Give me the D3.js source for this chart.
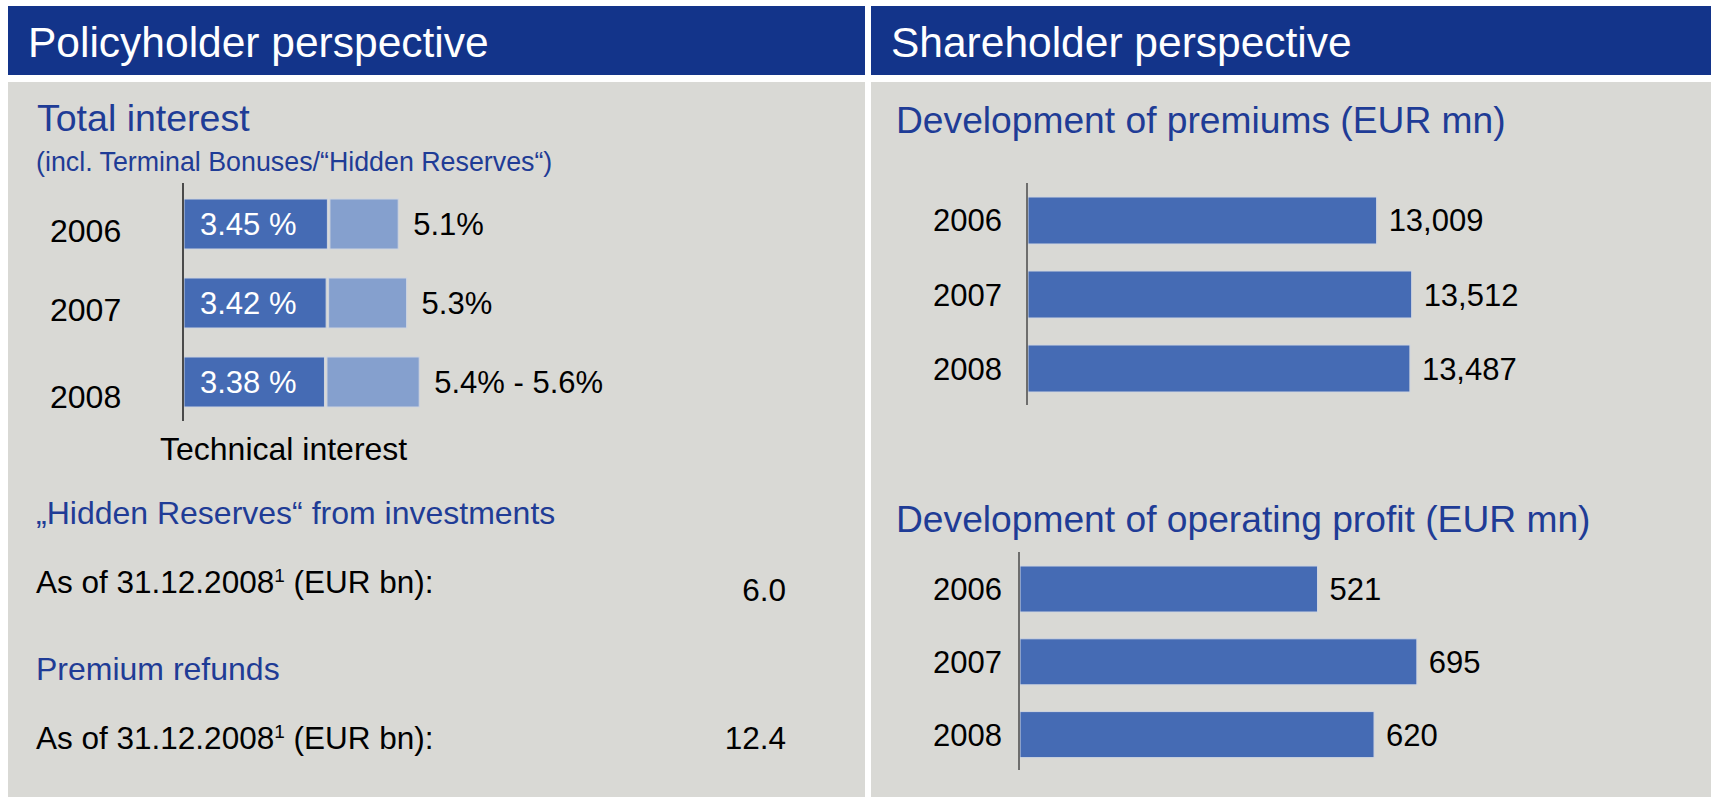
<!DOCTYPE html>
<html>
<head>
<meta charset="utf-8">
<title>Policyholder / Shareholder perspective</title>
<script src="https://cdn.jsdelivr.net/npm/d3@7"></script>
<style>
  html, body { margin: 0; padding: 0; background: #fff; }
  svg { display: block; font-family: "Liberation Sans", Arial, Helvetica, sans-serif; }
</style>
</head>
<body>
<svg id="chart" width="1711" height="797"></svg>
<script>
/* Two-panel slide: policyholder interest bars on the left,
   premiums and operating profit bars on the right. */
(() => {
  "use strict";

  const YEARS = ["2006", "2007", "2008"];
  const TECH_INTEREST = [3.45, 3.42, 3.38];          // %
  const TOTAL_INTEREST = [5.1, 5.3, 5.6];            // % (2008 drawn at top of range)
  const TOTAL_LABELS = ["5.1%", "5.3%", "5.4% - 5.6%"];
  const PREMIUMS = [13009, 13512, 13487];            // EUR mn
  const OP_PROFIT = [521, 695, 620];                 // EUR mn
  const HIDDEN_RESERVES = 6.0;                       // EUR bn
  const PREMIUM_REFUNDS = 12.4;                      // EUR bn

  const C = {
    header: "#13348a",
    panel: "#d9d9d5",
    title: "#1f3c96",
    bar: "#456bb4",
    barLight: "#85a0ce",
    edge: "#cfd5e0",
    axis: "#4a4a4a",
  };
  const NF = d3.format(",");

  const svg = d3.select("#chart");

  /* ---------- frame ---------- */
  svg.append("rect").attr("x", 8).attr("y", 6).attr("width", 857).attr("height", 69).attr("fill", C.header);
  svg.append("rect").attr("x", 871).attr("y", 6).attr("width", 840).attr("height", 69).attr("fill", C.header);
  svg.append("rect").attr("x", 8).attr("y", 82).attr("width", 857).attr("height", 715).attr("fill", C.panel);
  svg.append("rect").attr("x", 871).attr("y", 82).attr("width", 840).attr("height", 715).attr("fill", C.panel);

  function text(x, y, s, size, fill, anchor) {
    return svg.append("text")
      .attr("x", x).attr("y", y)
      .attr("font-size", size)
      .attr("fill", fill)
      .attr("text-anchor", anchor || "start")
      .text(s);
  }

  text(28, 57, "Policyholder perspective", 42.5, "#fff");
  text(891, 57, "Shareholder perspective", 42.5, "#fff");

  /* ---------- left: total interest ---------- */
  text(37, 131, "Total interest", 37.5, C.title);
  text(36, 171, "(incl. Terminal Bonuses/\u201cHidden Reserves\u201c)", 26.8, C.title);

  function buildInterest() {
    const x = d3.scaleLinear().domain([0, 6]).range([184, 436]);
    const y = d3.scaleBand().domain(YEARS).range([199, 407]).paddingInner(0.367).paddingOuter(0);
    const rows = YEARS.map((yr, i) => ({ yr, tech: TECH_INTEREST[i], total: TOTAL_INTEREST[i], label: TOTAL_LABELS[i] }));
    const g = svg.append("g");

    g.selectAll("rect.light").data(rows).join("rect")
      .attr("class", "light")
      .attr("x", (d) => x(d.tech) + 1)
      .attr("y", (d) => y(d.yr))
      .attr("width", (d) => x(d.total) - x(d.tech) - 1)
      .attr("height", y.bandwidth())
      .attr("fill", C.barLight)
      .attr("stroke", C.edge).attr("stroke-width", 1);

    g.selectAll("rect.dark").data(rows).join("rect")
      .attr("class", "dark")
      .attr("x", x(0))
      .attr("y", (d) => y(d.yr))
      .attr("width", (d) => x(d.tech) - x(0) - 1.5)
      .attr("height", y.bandwidth())
      .attr("fill", C.bar)
      .attr("stroke", C.edge).attr("stroke-width", 1);

    g.append("line")
      .attr("x1", x(0) - 1).attr("x2", x(0) - 1)
      .attr("y1", 183).attr("y2", 421)
      .attr("stroke", C.axis).attr("stroke-width", 2);

    const mid = (d) => y(d.yr) + y.bandwidth() / 2;
    g.selectAll("text.in").data(rows).join("text")
      .attr("class", "in")
      .attr("x", x(0) + 16).attr("y", (d) => mid(d) + 11)
      .attr("font-size", 31).attr("fill", "#fff")
      .text((d) => d.tech.toFixed(2) + " %");

    g.selectAll("text.out").data(rows).join("text")
      .attr("class", "out")
      .attr("x", (d) => x(d.total) + 15).attr("y", (d) => mid(d) + 11)
      .attr("font-size", 31).attr("fill", "#000")
      .text((d) => d.label);

    g.selectAll("text.yr").data(rows).join("text")
      .attr("class", "yr")
      .attr("x", 50).attr("y", (d, i) => mid(d) + 18 + (i === 2 ? 8 : 0))
      .attr("font-size", 32).attr("fill", "#000")
      .text((d) => d.yr);

    text(160, 460, "Technical interest", 32, "#000");
  }
  buildInterest();

  /* ---------- left: hidden reserves / refunds ---------- */
  text(36, 524, "\u201eHidden Reserves\u201c from investments", 32, C.title);
  text(36, 680, "Premium refunds", 32, C.title);

  function asOf(yBase, value, yValue) {
    const t = text(36, yBase, "As of 31.12.2008", 31.5, "#000");
    t.append("tspan").attr("font-size", 19).attr("dy", -11).text("1");
    t.append("tspan").attr("dy", 11).text(" (EUR bn):");
    text(786, yValue, value.toFixed(1), 31.5, "#000", "end");
  }
  asOf(593, HIDDEN_RESERVES, 601);
  asOf(749, PREMIUM_REFUNDS, 749);

  /* ---------- right: simple bar charts ---------- */
  function buildBars(values, opt) {
    const x = d3.scaleLinear().domain(opt.domain).range(opt.range);
    const y = d3.scaleBand().domain(YEARS).range(opt.yRange).paddingInner(opt.pad).paddingOuter(0);
    const rows = YEARS.map((yr, i) => ({ yr, v: values[i] }));
    const g = svg.append("g");

    g.selectAll("rect").data(rows).join("rect")
      .attr("x", x.range()[0])
      .attr("y", (d) => y(d.yr))
      .attr("width", (d) => x(d.v) - x.range()[0])
      .attr("height", y.bandwidth())
      .attr("fill", C.bar)
      .attr("stroke", C.edge).attr("stroke-width", 1);

    g.append("line")
      .attr("x1", x.range()[0] - 1).attr("x2", x.range()[0] - 1)
      .attr("y1", opt.axis[0]).attr("y2", opt.axis[1])
      .attr("stroke", C.axis).attr("stroke-width", 1.5);

    const mid = (d) => y(d.yr) + y.bandwidth() / 2;
    g.selectAll("text.val").data(rows).join("text")
      .attr("class", "val")
      .attr("x", (d) => x(d.v) + 12).attr("y", (d) => mid(d) + 11)
      .attr("font-size", 31).attr("fill", "#000")
      .text((d) => NF(d.v));

    g.selectAll("text.yr").data(rows).join("text")
      .attr("class", "yr")
      .attr("x", 1002).attr("y", (d) => mid(d) + 11)
      .attr("text-anchor", "end")
      .attr("font-size", 31).attr("fill", "#000")
      .text((d) => d.yr);
  }

  text(896, 133, "Development of premiums (EUR mn)", 37.2, C.title);
  buildBars(PREMIUMS, {
    domain: [8000, 14000], range: [1028, 1445.6],
    yRange: [197, 392], pad: 0.365, axis: [183, 405],
  });

  text(896, 532, "Development of operating profit (EUR mn)", 37.2, C.title);
  buildBars(OP_PROFIT, {
    domain: [0, 700], range: [1020, 1419.7],
    yRange: [566, 757.6], pad: 0.368, axis: [552, 770],
  });
})();
</script>
</body>
</html>
